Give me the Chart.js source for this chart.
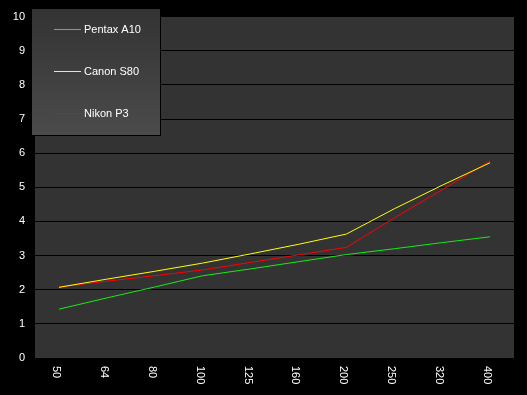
<!DOCTYPE html>
<html>
<head>
<meta charset="utf-8">
<script src="https://cdn.jsdelivr.net/npm/chart.js@4/dist/chart.umd.min.js"></script>
<style>
  html, body { margin: 0; padding: 0; background: #000; }
  #wrap { width: 527px; height: 395px; }
</style>
</head>
<body>
<div id="wrap"><canvas id="isoChart" width="527" height="395"></canvas></div>
<script>
// values
var isoLabels = ["50", "64", "80", "100", "125", "160", "200", "250", "320", "400"];
var pentaxA10 = [1.43, 1.76, 2.08, 2.41, 2.61, 2.82, 3.03, 3.2, 3.38, 3.55];
var canonS80  = [2.07, 2.31, 2.54, 2.78, 3.05, 3.33, 3.63, 4.37, 5.06, 5.72];
var nikonP3   = [2.08, 2.25, 2.41, 2.58, 2.8, 3.02, 3.24, 4.1, 4.93, 5.77];
var yMin = 0, yMax = 10;

var FONT = "Liberation Sans, Arial, sans-serif";

// dark plot background
var plotBg = {
	id: "plotBg",
	beforeDraw: function(chart) {
		var a = chart.chartArea, ctx = chart.ctx;
		ctx.save();
		ctx.fillStyle = "#000";
		ctx.fillRect(0, 0, chart.width, chart.height);
		ctx.fillStyle = "#333333";
		ctx.fillRect(a.left, a.top, a.right - a.left, a.bottom - a.top);
		ctx.restore();
	}
};

// x labels turned clockwise, and the boxed legend
var extras = {
	id: "extras",
	afterDraw: function(chart) {
		var ctx = chart.ctx, xs = chart.scales.x, a = chart.chartArea;
		ctx.save();
		ctx.font = "11px " + FONT;
		ctx.fillStyle = "#fff";
		ctx.textAlign = "left";
		ctx.textBaseline = "middle";
		isoLabels.forEach(function(lbl, i) {
			var px = xs.getPixelForValue(i);
			ctx.save();
			ctx.translate(px - 3, a.bottom + 8);
			ctx.rotate(Math.PI / 2);
			ctx.fillText(lbl, 0, 0);
			ctx.restore();
		});

		// legend box
		var bx = 31, by = 8, bw = 129, bh = 127;
		var g = ctx.createLinearGradient(0, by, 0, by + bh);
		g.addColorStop(0, "#333333");
		g.addColorStop(1, "#4b4b4b");
		ctx.fillStyle = g;
		ctx.fillRect(bx, by, bw, bh);
		ctx.strokeStyle = "#000";
		ctx.lineWidth = 1;
		ctx.strokeRect(bx + 0.5, by + 0.5, bw, bh);

		var rows = [29.5, 71.5, 113.5];
		chart.data.datasets.forEach(function(ds, i) {
			var y = rows[i];
			ctx.strokeStyle = ds.borderColor;
			ctx.beginPath();
			ctx.moveTo(54, y);
			ctx.lineTo(81, y);
			ctx.stroke();
			ctx.fillStyle = "#fff";
			ctx.fillText(ds.label, 84, y);
		});
		ctx.restore();
	}
};

var isoChart = new Chart(document.getElementById("isoChart"), {
	type: "line",
	data: {
		labels: isoLabels,
		datasets: [
			{ label: "Pentax A10", data: pentaxA10, borderColor: "#11ee11", borderWidth: 1, pointRadius: 0, fill: false, tension: 0 },
			{ label: "Canon S80", data: canonS80, borderColor: "#ffff00", borderWidth: 1, pointRadius: 0, fill: false, tension: 0 },
			{ label: "Nikon P3", data: nikonP3, borderColor: "#ff0000", borderWidth: 1, pointRadius: 0, fill: false, tension: 0 }
		]
	},
	options: {
		responsive: false,
		animation: false,
		devicePixelRatio: 1,
		layout: { padding: { top: 10, right: 13, left: 0, bottom: 0 } },
		plugins: { legend: { display: false }, tooltip: { enabled: false } },
		scales: {
			x: {
				offset: true,
				grid: { display: false },
				border: { display: false },
				ticks: { display: false },
				afterFit: function(s) { s.height = 37; }
			},
			y: {
				min: yMin,
				max: yMax,
				grid: { color: "#000", lineWidth: 1, drawTicks: false },
				border: { display: false },
				ticks: { stepSize: 1, color: "#fff", padding: 10, font: { family: FONT, size: 11 } },
				afterFit: function(s) { s.width = 35; }
			}
		}
	},
	plugins: [plotBg, extras]
});
</script>
</body>
</html>
